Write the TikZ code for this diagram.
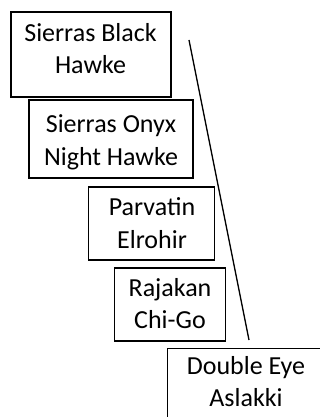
\documentclass[tikz,border=0pt]{standalone}
\usepackage{fontspec}
\setmainfont{Carlito}
\begin{document}
\begin{tikzpicture}[x=1pt,y=-1pt,
  card/.style={draw=black, line width=1.4pt, inner sep=0pt},
  words/.style={align=center, inner sep=0pt, anchor=base,
    font=\fontsize{26}{32.5}\selectfont},
  link/.style={draw=black, line width=1.3pt}]
  \useasboundingbox (0,0) rectangle (320,417);
  % frames
  \node[card, minimum width=160, minimum height=85] (b1) at (91,54.5) {};
  \node[card, minimum width=164, minimum height=78] (b2) at (111,139) {};
  \node[card, minimum width=126, minimum height=73] (b3) at (151.5,223.5) {};
  \node[card, minimum width=111, minimum height=73] (b4) at (170,304.5) {};
  \node[card, minimum width=170, minimum height=85, anchor=north west] (b5) at (167,347.5) {};
  % labels, placed on the baseline of their last line
  \node[words] (t1) at (90.5,73.7) {Sierras Black\\Hawke};
  \node[words] (t2) at (111,165) {Sierras Onyx\\Night Hawke};
  \node[words] (t3) at (152,248) {Parvatin\\Elrohir};
  \node[words] (t4) at (170,328.5) {Rajakan\\Chi-Go};
  \node[words] (t5) at (246,406.5) {Double Eye\\Aslakki};
  % slanted rule
  \coordinate (top) at (189,40);
  \coordinate (bot) at (249,340);
  \draw[link] (top) -- (bot);
\end{tikzpicture}
\end{document}
